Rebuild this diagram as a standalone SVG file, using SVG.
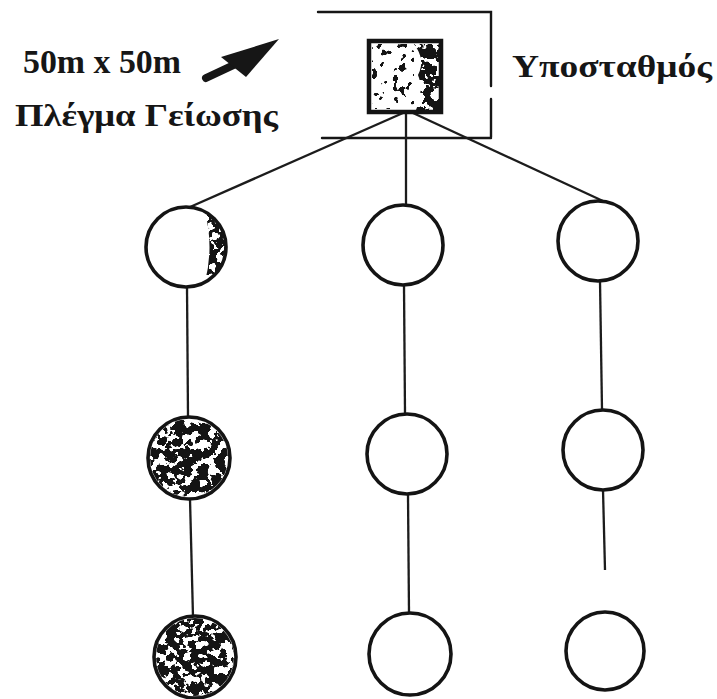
<svg xmlns="http://www.w3.org/2000/svg" width="717" height="699" viewBox="0 0 717 699">
  <defs>
    <style>
      .ink { stroke: #161616; fill: none; stroke-linecap: round; }
      .wire { stroke: #1c1c1c; stroke-width: 2.3; fill: none; }
      .pole { stroke: #141414; stroke-width: 3.6; fill: #ffffff; }
      .label { font-family: "Liberation Serif", "DejaVu Serif", serif; fill: #161616; }
    </style>
    <!-- toner speckle used inside some of the pole circles -->
    <filter id="speckleHeavy" x="0" y="0" width="1" height="1" color-interpolation-filters="sRGB">
      <feTurbulence type="fractalNoise" baseFrequency="0.12" numOctaves="3" seed="7" result="noise"/>
      <feColorMatrix in="noise" type="matrix" values="0 0 0 0 0.08  0 0 0 0 0.08  0 0 0 0 0.08  40 0 0 0 -18" result="dots"/>
      <feComposite in="dots" in2="SourceGraphic" operator="in"/>
    </filter>
    <filter id="speckleLight" x="0" y="0" width="1" height="1" color-interpolation-filters="sRGB">
      <feTurbulence type="fractalNoise" baseFrequency="0.14" numOctaves="2" seed="11" result="noise"/>
      <feColorMatrix in="noise" type="matrix" values="0 0 0 0 0.08  0 0 0 0 0.08  0 0 0 0 0.08  40 0 0 0 -25" result="dots"/>
      <feComposite in="dots" in2="SourceGraphic" operator="in"/>
    </filter>
  </defs>

  <rect width="717" height="699" fill="#ffffff"/>

  <!-- labels and pointer arrow -->
  <g id="grid-label">
    <text class="label" x="23" y="73" font-size="33" font-weight="bold" textLength="158" lengthAdjust="spacingAndGlyphs">50m x 50m</text>
    <text class="label" x="15" y="126" font-size="32" font-weight="bold" textLength="263" lengthAdjust="spacingAndGlyphs">Πλέγμα Γείωσης</text>
    <g id="pointer">
      <line x1="206" y1="78" x2="238" y2="63" stroke="#161616" stroke-width="8" stroke-linecap="round"/>
      <polygon points="279,39 221,57 246,77" fill="#161616"/>
    </g>
  </g>

  <g id="substation-label">
    <text class="label" x="512" y="77" font-size="31" font-weight="bold" textLength="200" lengthAdjust="spacingAndGlyphs">Υποσταθμός</text>
  </g>

  <!-- enclosure of the substation -->
  <g id="substation-enclosure">
    <polyline class="ink" stroke-width="2.4" points="318,12 491,12 491,86"/>
    <line class="ink" stroke-width="2.4" x1="491" y1="99" x2="491" y2="137"/>
    <line class="ink" stroke-width="2.4" x1="322" y1="138" x2="491" y2="138"/>
  </g>

  <!-- connectors -->
  <g id="connectors">
    <line class="wire" x1="403" y1="113" x2="190" y2="207"/>
    <line class="wire" x1="406" y1="113" x2="406" y2="204"/>
    <line class="wire" x1="413" y1="113" x2="603" y2="201"/>
    <line class="wire" x1="187" y1="287" x2="188" y2="417"/>
    <line class="wire" x1="190" y1="499" x2="193" y2="617"/>
    <line class="wire" x1="404" y1="286" x2="405" y2="413"/>
    <line class="wire" x1="408" y1="495" x2="409" y2="613"/>
    <line class="wire" x1="600" y1="281" x2="602" y2="410"/>
    <line class="wire" x1="603" y1="490" x2="605" y2="570"/>
  </g>

  <!-- substation -->
  <g id="substation">
    <rect x="369" y="41" width="72" height="71" fill="#ffffff" stroke="#141414" stroke-width="4.5"/>
    <path d="M414,44 H439 V110 H416 Q424,90 418,75 Q426,60 414,44 Z" fill="#ffffff" filter="url(#speckleHeavy)"/>
    <rect x="372" y="44" width="42" height="65" fill="#ffffff" filter="url(#speckleLight)"/>
  </g>

  <!-- poles, row 1 -->
  <g id="pole-1-1">
    <circle class="pole" cx="186" cy="247" r="40"/>
    <path d="M205,212 A40,40 0 0 1 205,282 Q214,247 205,212 Z" fill="#ffffff" filter="url(#speckleHeavy)"/>
  </g>
  <g id="pole-1-2">
    <circle class="pole" cx="403" cy="245" r="40"/>
  </g>
  <g id="pole-1-3">
    <circle class="pole" cx="598" cy="241" r="40"/>
  </g>

  <!-- poles, row 2 -->
  <g id="pole-2-1">
    <circle class="pole" cx="189" cy="458" r="41"/>
    <circle cx="189" cy="458" r="39" fill="#ffffff" filter="url(#speckleHeavy)"/>
  </g>
  <g id="pole-2-2">
    <circle class="pole" cx="407" cy="454" r="40"/>
  </g>
  <g id="pole-2-3">
    <circle class="pole" cx="603" cy="450" r="40"/>
  </g>

  <!-- poles, row 3 -->
  <g id="pole-3-1">
    <circle class="pole" cx="195" cy="657" r="41"/>
    <circle cx="195" cy="657" r="39" fill="#ffffff" filter="url(#speckleHeavy)"/>
  </g>
  <g id="pole-3-2">
    <circle class="pole" cx="410" cy="654" r="41"/>
  </g>
  <g id="pole-3-3">
    <circle class="pole" cx="605" cy="651" r="39"/>
  </g>
</svg>
